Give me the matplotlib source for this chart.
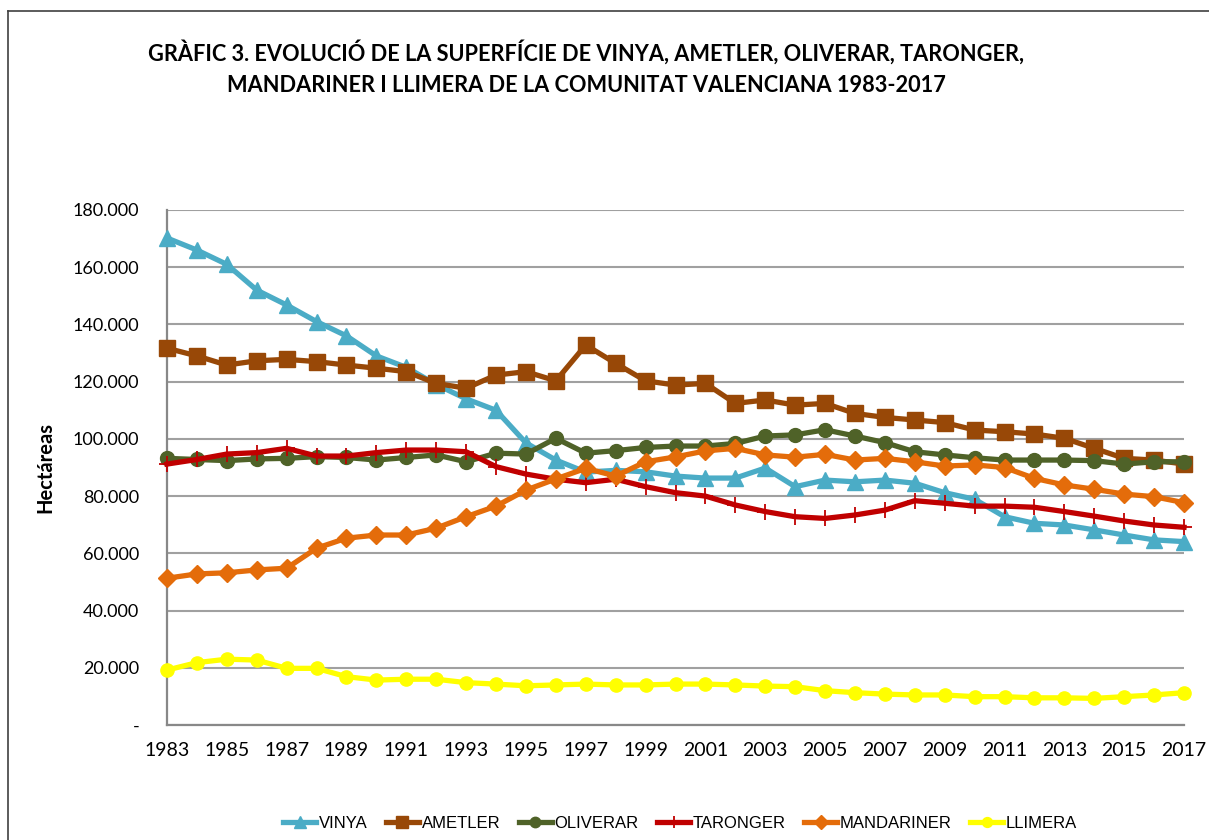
import matplotlib
matplotlib.use("Agg")
import matplotlib.pyplot as plt
from matplotlib.lines import Line2D
from matplotlib.ticker import FuncFormatter

plt.rcParams['font.family'] = ['Lato', 'DejaVu Sans']

years = list(range(1983, 2018))

vinya = [170.2, 166.0, 161.0, 152.0, 146.8, 141.0, 136.0, 129.0, 125.0, 119.0, 114.0, 110.0,
         98.6, 92.6, 88.4, 89.0, 88.5, 87.0, 86.3, 86.3, 89.8, 83.3, 85.6, 85.0, 85.6, 84.5,
         81.2, 78.9, 72.8, 70.5, 69.9, 68.2, 66.4, 64.7, 64.1]
ametler = [131.7, 129.0, 125.8, 127.3, 127.8, 127.0, 125.8, 124.7, 123.5, 119.4, 117.7, 122.3,
           123.5, 120.3, 132.8, 126.4, 120.3, 118.8, 119.4, 112.4, 113.6, 111.8, 112.4, 108.9,
           107.5, 106.6, 105.7, 103.1, 102.5, 101.7, 100.2, 96.7, 93.2, 92.6, 91.2]
oliverar = [93.2, 92.8, 92.4, 93.0, 93.2, 93.8, 93.5, 92.6, 93.5, 94.4, 92.0, 95.0, 94.7,
            100.2, 95.0, 95.9, 97.0, 97.5, 97.5, 98.4, 101.0, 101.4, 103.2, 101.0, 98.7, 95.5,
            94.4, 93.4, 92.6, 92.6, 92.6, 92.4, 91.2, 92.0, 92.0]
taronger = [91.2, 92.8, 94.7, 95.2, 96.7, 94.0, 94.0, 95.2, 96.1, 96.1, 95.5, 90.3, 87.7,
            85.9, 84.7, 85.9, 83.3, 81.2, 80.0, 76.9, 74.6, 72.8, 72.2, 73.4, 75.1, 78.4, 77.5,
            76.5, 76.5, 76.1, 74.6, 73.0, 71.3, 69.9, 69.1]
mandariner = [51.3, 52.8, 53.2, 54.2, 54.8, 61.8, 65.3, 66.4, 66.4, 68.8, 72.8, 76.5, 82.1,
              86.0, 89.7, 87.0, 92.0, 93.7, 95.8, 96.7, 94.4, 93.6, 94.6, 92.6, 93.2, 92.0,
              90.5, 90.9, 90.0, 86.2, 83.9, 82.4, 80.7, 79.8, 77.7]
llimera = [19.2, 21.8, 23.0, 22.7, 19.8, 19.8, 16.9, 15.7, 16.0, 16.0, 14.8, 14.3, 13.7,
           14.0, 14.3, 14.0, 14.0, 14.3, 14.3, 14.0, 13.6, 13.4, 12.0, 11.3, 10.8, 10.5, 10.5,
           9.9, 9.9, 9.5, 9.5, 9.3, 9.9, 10.5, 11.3]

series_names = ["VINYA", "AMETLER", "OLIVERAR", "TARONGER", "MANDARINER", "LLIMERA"]
series_values = [vinya, ametler, oliverar, taronger, mandariner, llimera]
colors = ["#4BACC6", "#984807", "#4F6228", "#C00000", "#E46C0A", "#FFFF00"]
markers = ["^", "s", "o", "+", "D", "o"]
msizes = [12, 11, 10, 12, 9.5, 9.5]
title_lines = ["GRÀFIC 3. EVOLUCIÓ DE LA SUPERFÍCIE DE VINYA, AMETLER, OLIVERAR, TARONGER,",
               "MANDARINER I LLIMERA DE LA COMUNITAT VALENCIANA 1983-2017"]
y_label = "Hectáreas"
x_ticks = list(range(1983, 2018, 2))

fig = plt.figure(figsize=(12.09, 8.4), dpi=100)
ax = fig.add_axes([167/1209, 1-725/840, (1184-167)/1209, (725-210)/840])

for name, vals, c, m, ms in zip(series_names, series_values, colors, markers, msizes):
    yv = [v * 1000 for v in vals]
    if m == "+":
        ax.plot(years, yv, color=c, lw=3.8, marker=m, ms=ms, mew=1.3, label=name, zorder=3,
                clip_on=False)
    else:
        ax.plot(years, yv, color=c, lw=3.8, marker=m, ms=ms, mec=c, label=name, zorder=3,
                clip_on=False)

ax.set_xlim(1983, 2017)
ax.set_ylim(0, 180000)
ax.set_yticks(range(0, 180001, 20000))
ax.set_xticks(x_ticks)
ax.yaxis.set_major_formatter(FuncFormatter(
    lambda v, p: "-" if v == 0 else f"{int(v):,}".replace(",", ".")))
ax.grid(axis="y", color="#A0A0A0", lw=1.5)
ax.set_axisbelow(True)
for s in ["top", "right"]:
    ax.spines[s].set_visible(False)
for s in ["left", "bottom"]:
    ax.spines[s].set_color("#888888")
    ax.spines[s].set_linewidth(1.6)
ax.tick_params(axis="both", length=0)
ax.tick_params(axis="y", pad=20, labelsize=13)
ax.tick_params(axis="x", pad=12, labelsize=14)
ax.set_ylabel(y_label, fontsize=14.5, fontweight="bold")
ax.yaxis.set_label_coords(-0.1095, 0.5)

for i, (line, yc) in enumerate(zip(title_lines, [52, 85])):
    fig.text(586/1209, 1-yc/840, line, ha="center", va="center",
             fontsize=15.7, fontweight="bold")

handles = []
for name, c, m, ms in zip(series_names, colors, markers, msizes):
    handles.append(Line2D([0], [0], color=c, lw=3.8, marker=m, ms=ms * 0.75, mec=c,
                          mew=1.3 if m == "+" else 1))
fig.legend(handles, series_names, loc="center", bbox_to_anchor=(680/1209, 1-823/840),
           ncol=6, frameon=False, handlelength=2.0, handletextpad=0.15,
           columnspacing=1.1, prop={"family": ["Liberation Sans", "DejaVu Sans"], "size": 12})

# outer chart frame (top and left edges visible)
fig.add_artist(Line2D([8/1209, 1.0], [1-11/840, 1-11/840], transform=fig.transFigure,
                      color="#404040", lw=1.2))
fig.add_artist(Line2D([8/1209, 8/1209], [1-11/840, 0.0], transform=fig.transFigure,
                      color="#404040", lw=1.2))

fig.savefig("out.png", dpi=100)
